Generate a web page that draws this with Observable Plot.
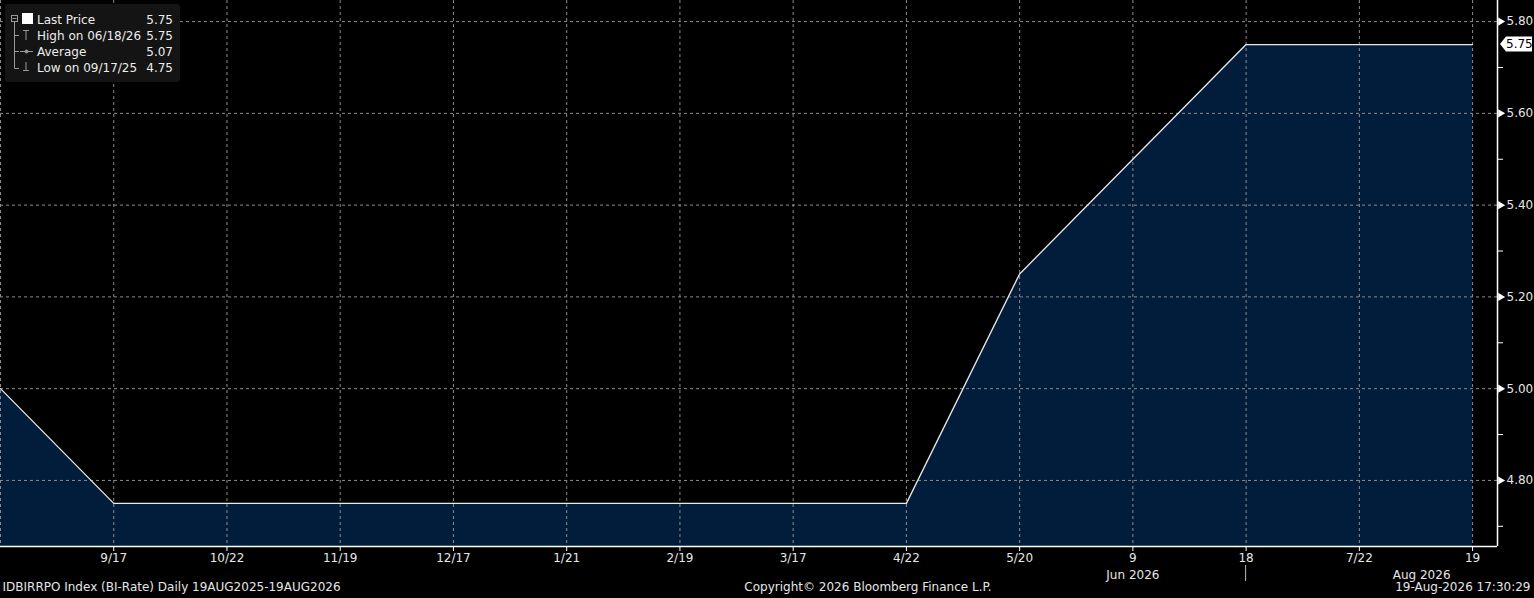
<!DOCTYPE html>
<html><head><meta charset="utf-8">
<script src="https://cdn.jsdelivr.net/npm/d3@7"></script>
<script src="https://cdn.jsdelivr.net/npm/@observablehq/plot@0.6"></script>
<style>
html,body{margin:0;padding:0;background:#000;overflow:hidden}
#wrap{position:relative;width:1534px;height:598px}
#legend{position:absolute;left:5px;top:4px;width:175px;height:78px;background:#141414;border-radius:3px;font-family:"DejaVu Sans";font-size:12px;color:#ececec}
#legend .row{position:absolute;left:0;width:168px;height:16px;line-height:16px}
#legend .lab{position:absolute;left:32px}
#legend .val{position:absolute;right:0}
#legend svg{position:absolute;left:0;top:0}
</style></head><body><div id="wrap"><div id="chart"></div><div id="legend"></div></div>
<script>
// ---- data ----
const dates = ["2025-08-19","2025-09-17","2025-10-22","2025-11-19","2025-12-17","2026-01-21","2026-02-19","2026-03-17","2026-04-22","2026-05-20","2026-06-09","2026-06-18","2026-07-22","2026-08-19"];
const rates = [5.00,4.75,4.75,4.75,4.75,4.75,4.75,4.75,4.75,5.25,5.50,5.75,5.75,5.75];
const tickLabels = ["","9/17","10/22","11/19","12/17","1/21","2/19","3/17","4/22","5/20","9","18","7/22","19"];
const monthLabels = ["Jun 2026","Aug 2026"];
const monthAt = [10, 12.55];
const yMajor = [4.8,5.0,5.2,5.4,5.6,5.8];
const yMinor = [4.7,4.9,5.1,5.3,5.5,5.7];
const legendLabels = ["Last Price","High on 06/18/26","Average","Low on 09/17/25"];
const legendValues = ["5.75","5.75","5.07","4.75"];
const lastPrice = 5.75;
const footerLeft = "IDBIRRPO Index (BI-Rate) Daily 19AUG2025-19AUG2026";
const footerCenter = "Copyright\u00A9 2026 Bloomberg Finance L.P.";
const footerRight = "19-Aug-2026 17:30:29";

const data = dates.map((d,i)=>({i, date:d, rate:rates[i]}));
const xMax = 13.22, yMin = 4.656, yMax = 5.846;
const grid = {stroke:"#8c8c8c", strokeOpacity:1, strokeDasharray:"3,3", strokeWidth:1};

const chart = Plot.plot({
  width:1534, height:598, marginTop:0, marginLeft:0, marginRight:37, marginBottom:52,
  style:{background:"#000", color:"#e6e6e6", fontFamily:"DejaVu Sans", fontSize:"12px"},
  x:{domain:[0,xMax], axis:null, label:null},
  y:{domain:[yMin,yMax], axis:null, label:null},
  marks:[
    Plot.areaY(data,{x:"i", y1:yMin, y2:"rate", fill:"#021d3b"}),
    Plot.gridY(yMajor, grid),
    Plot.gridX(d3.range(14), grid),
    Plot.lineY(data,{x:"i", y:"rate", stroke:"#e8e8e8", strokeWidth:1.3}),
    Plot.ruleY([yMin],{stroke:"#fff", strokeWidth:1.5}),
    Plot.ruleX([xMax],{stroke:"#fff", strokeWidth:1.5}),
    Plot.axisX(d3.range(1,14),{anchor:"bottom", label:null, tickSize:5, tickPadding:2, tickFormat:i=>tickLabels[i], stroke:"#fff", fill:"#e6e6e6", fontSize:12}),
    Plot.axisY(yMinor,{anchor:"right", label:null, tickSize:5, tickFormat:()=>"", stroke:"#fff"}),
    Plot.axisY(yMajor,{anchor:"right", label:null, tickSize:0, tickPadding:9, tickFormat:d3.format(".2f"), fill:"#e6e6e6", fontSize:12}),
    Plot.dot(yMajor,{x:()=>xMax, y:d=>d, symbol:"triangle", rotate:90, r:3, fill:"#fff", dx:3}),
    Plot.text(monthLabels,{x:(d,i)=>monthAt[i], y:()=>yMin, text:d=>d, dy:29, fill:"#e6e6e6", fontSize:12}),
    (index, scales, values, dims) => {
      const g = d3.create("svg:g");
      // month separator under "18"
      const xs = scales.x(11), yb = scales.y(yMin);
      g.append("line").attr("x1",xs).attr("x2",xs).attr("y1",yb+19).attr("y2",yb+35).attr("stroke","#bbb");
      // last price tag
      const y = scales.y(lastPrice), x0 = dims.width - dims.marginRight + 3;
      g.append("path").attr("d",`M${x0},${y} L${x0+6},${y-7.5} H${x0+32} V${y+7.5} H${x0+6} Z`).attr("fill","#fff");
      g.append("text").attr("x",x0+6).attr("y",y).attr("dy","0.35em").attr("fill","#000")
        .attr("text-anchor","start").attr("font-family","DejaVu Sans").attr("font-size",12).text(d3.format(".2f")(lastPrice));
      return g.node();
    },
    Plot.text([footerLeft],{frameAnchor:"bottom-left", text:d=>d, dy:44, dx:2, textAnchor:"start", fill:"#e6e6e6", fontSize:12}),
    Plot.text([footerCenter],{frameAnchor:"bottom", text:d=>d, dy:44, dx:119, fill:"#e6e6e6", fontSize:12}),
    Plot.text([footerRight],{frameAnchor:"bottom-right", text:d=>d, dy:44, dx:33, textAnchor:"end", fill:"#e6e6e6", fontSize:12})
  ]
});
document.getElementById("chart").appendChild(chart);

// legend
const lg = document.getElementById("legend");
const rowTop = [8, 24, 40, 56];
let svg = `<svg width="40" height="78" stroke="#9a9a9a" fill="none" stroke-width="1">
<rect x="6.5" y="11.5" width="6" height="6"/><line x1="7.5" y1="14.5" x2="11.5" y2="14.5"/>
<line x1="9.5" y1="18" x2="9.5" y2="64.5"/>
<line x1="9.5" y1="31.5" x2="14" y2="31.5"/><line x1="9.5" y1="47.5" x2="14" y2="47.5"/><line x1="9.5" y1="64.5" x2="14" y2="64.5"/>
<line x1="18" y1="26.5" x2="24" y2="26.5"/><line x1="21" y1="26.5" x2="21" y2="36"/>
<line x1="15" y1="47.5" x2="28" y2="47.5"/><circle cx="21.5" cy="47.5" r="1.5" fill="#9a9a9a"/>
<line x1="21" y1="58" x2="21" y2="66.5"/><line x1="18" y1="66.5" x2="24" y2="66.5"/>
<rect x="17" y="9" width="11" height="11" fill="#fff" stroke="none"/>
</svg>`;
lg.innerHTML = svg + legendLabels.map((l,i)=>`<div class="row" style="top:${rowTop[i]}px"><span class="lab">${l}</span><span class="val">${legendValues[i]}</span></div>`).join("");
</script></body></html>
